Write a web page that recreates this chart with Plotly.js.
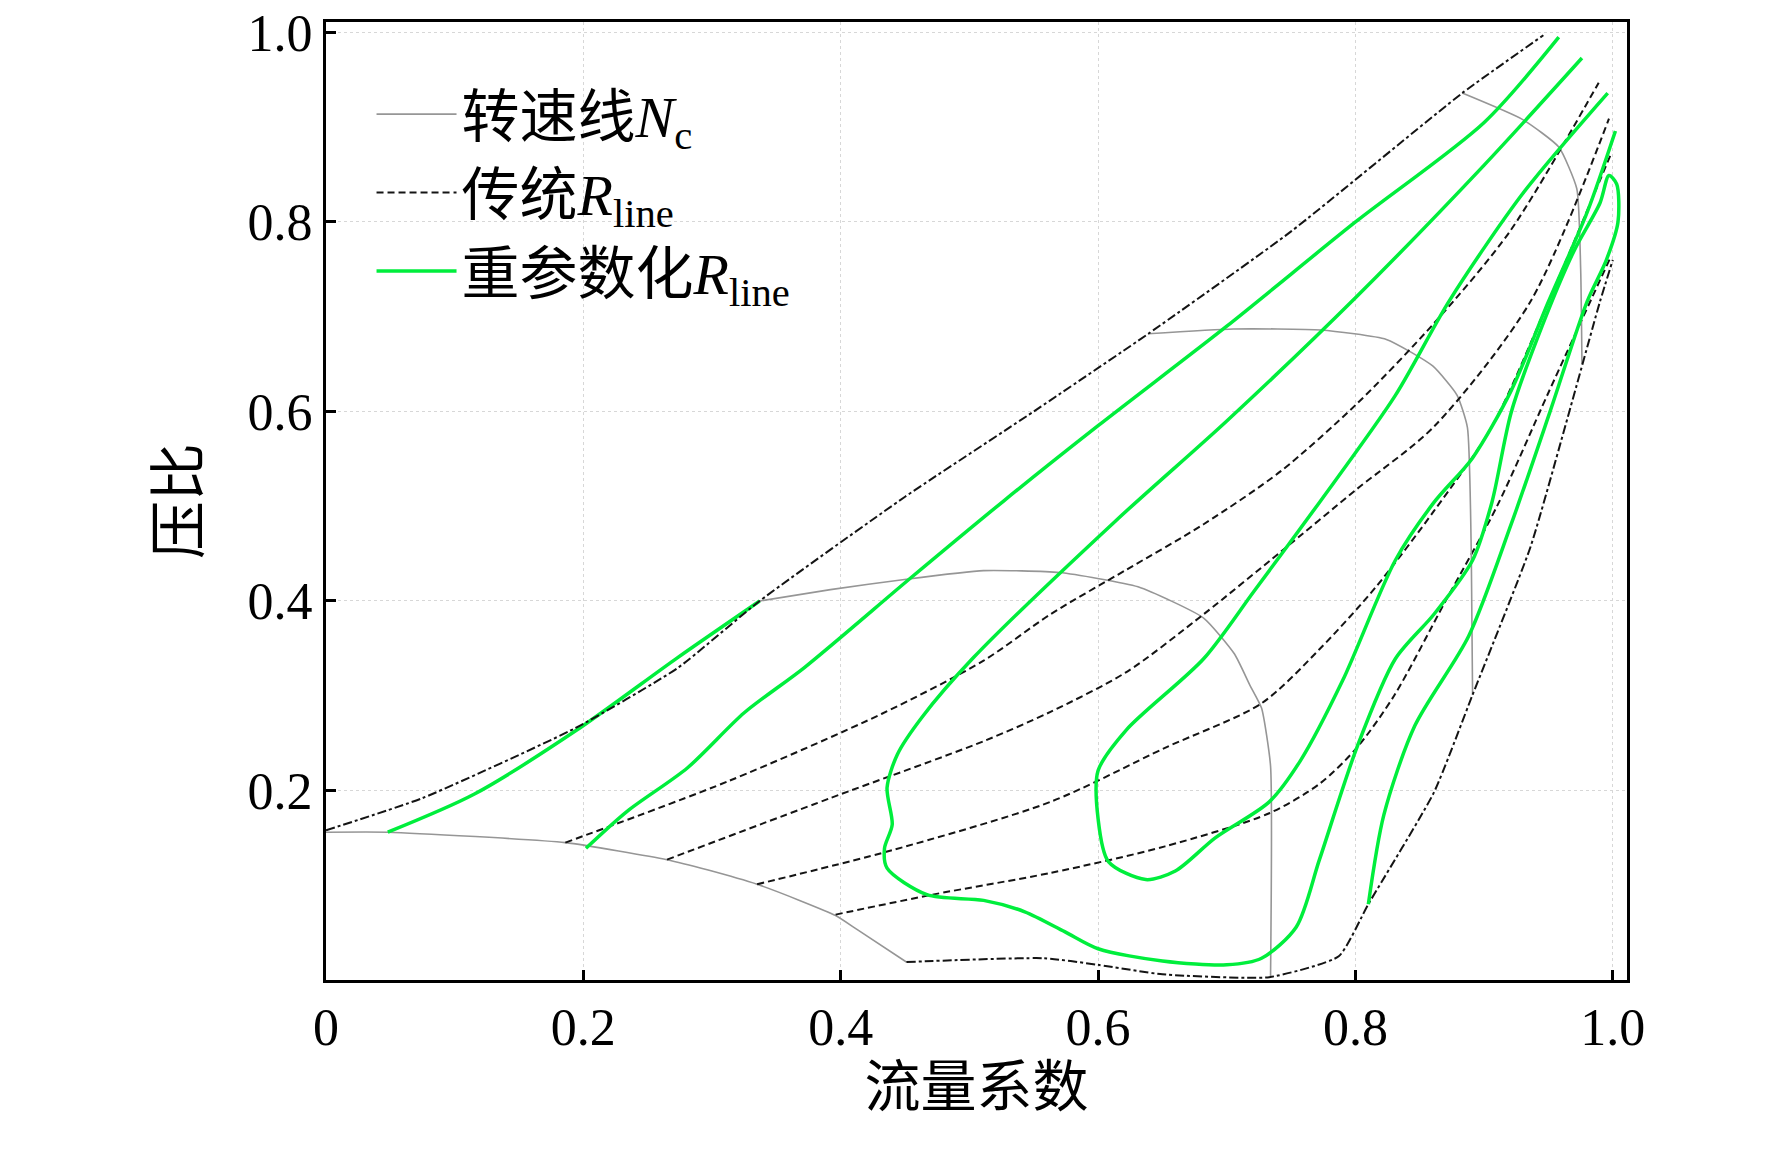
<!DOCTYPE html>
<html>
<head>
<meta charset="utf-8">
<script src="https://cdn.plot.ly/plotly-3.0.1.min.js"></script>
<style>body{margin:0;background:#fff}#graph{width:1772px;height:1156px}</style>
</head>
<body>
<div id="graph"></div>
<script>
// speed lines (gray)
var n1x = [0, 0.048, 0.186, 0.265, 0.297, 0.335, 0.368, 0.396, 0.412, 0.451];
var n1y = [0.156, 0.156, 0.145, 0.127, 0.116, 0.101, 0.084, 0.068, 0.054, 0.019];
var n2x = [0.337, 0.392, 0.451, 0.511, 0.57, 0.631, 0.682, 0.706, 0.718, 0.727, 0.734, 0.734];
var n2y = [0.4, 0.412, 0.423, 0.432, 0.43, 0.415, 0.382, 0.344, 0.311, 0.287, 0.226, 0.003];
var n3x = [0.639, 0.705, 0.773, 0.824, 0.86, 0.879, 0.887, 0.89, 0.891];
var n3y = [0.682, 0.687, 0.686, 0.676, 0.648, 0.617, 0.583, 0.45, 0.301];
var n4x = [0.883, 0.93, 0.958, 0.972, 0.975, 0.976];
var n4y = [0.936, 0.908, 0.879, 0.835, 0.75, 0.65];

// boundaries (dash-dot)
var topx = [0, 0.075, 0.194, 0.273, 0.337, 0.45, 0.55, 0.639, 0.75, 0.883, 0.946];
var topy = [0.158, 0.192, 0.266, 0.329, 0.4, 0.51, 0.6, 0.682, 0.79, 0.936, 0.997];
var botx = [0.451, 0.558, 0.6, 0.65, 0.733, 0.787, 0.81, 0.861, 0.891, 0.936, 0.966, 0.99, 1.0];
var boty = [0.019, 0.023, 0.016, 0.006, 0.003, 0.025, 0.08, 0.198, 0.301, 0.457, 0.599, 0.716, 0.76];

// traditional R lines (dashed)
var dAx = [0.396, 0.471, 0.563, 0.652, 0.733, 0.772, 0.801, 0.83, 0.87, 0.91, 0.95, 0.998];
var dAy = [0.069, 0.09, 0.113, 0.141, 0.176, 0.207, 0.245, 0.3, 0.4, 0.5, 0.62, 0.762];
var dBx = [0.335, 0.44, 0.563, 0.652, 0.727, 0.772, 0.816, 0.861, 0.906, 0.95, 0.998];
var dBy = [0.101, 0.137, 0.188, 0.245, 0.292, 0.349, 0.415, 0.495, 0.584, 0.716, 0.87];
var dCx = [0.265, 0.392, 0.511, 0.563, 0.622, 0.682, 0.742, 0.801, 0.861, 0.936, 0.997];
var dCy = [0.127, 0.192, 0.252, 0.283, 0.325, 0.386, 0.452, 0.518, 0.584, 0.716, 0.909];
var dDx = [0.186, 0.313, 0.432, 0.511, 0.563, 0.622, 0.682, 0.742, 0.801, 0.861, 0.92, 0.989];
var dDy = [0.145, 0.21, 0.281, 0.337, 0.386, 0.433, 0.481, 0.537, 0.608, 0.693, 0.79, 0.947];

// reparameterised R lines (green)
var g1x = [0.048, 0.115, 0.194, 0.273, 0.337];
var g1y = [0.156, 0.196, 0.263, 0.34, 0.4];
var g2x = [0.202, 0.234, 0.281, 0.325, 0.372, 0.455, 0.527, 0.6, 0.7, 0.8, 0.9, 0.958];
var g2y = [0.139, 0.178, 0.224, 0.282, 0.33, 0.425, 0.506, 0.585, 0.69, 0.8, 0.905, 0.995];
var g3x = [0.976, 0.9, 0.8, 0.7, 0.614, 0.503, 0.463, 0.444, 0.436, 0.44, 0.434, 0.436, 0.467, 0.511, 0.543, 0.574, 0.6, 0.65, 0.7, 0.727, 0.754, 0.772, 0.801, 0.831, 0.861, 0.891, 0.906, 0.921, 0.945, 0.97, 0.99, 0.997, 1.003, 1.004, 0.995, 0.98, 0.951, 0.921, 0.888, 0.846, 0.822, 0.81];
var g3y = [0.973, 0.86, 0.72, 0.59, 0.485, 0.34, 0.277, 0.238, 0.203, 0.164, 0.139, 0.118, 0.09, 0.084, 0.072, 0.051, 0.033, 0.02, 0.016, 0.023, 0.056, 0.127, 0.245, 0.339, 0.386, 0.443, 0.504, 0.599, 0.69, 0.77, 0.82, 0.849, 0.84, 0.8, 0.76, 0.716, 0.599, 0.481, 0.363, 0.268, 0.174, 0.08];
var g4x = [0.996, 0.93, 0.873, 0.831, 0.772, 0.721, 0.682, 0.622, 0.6, 0.6, 0.608, 0.637, 0.66, 0.691, 0.733, 0.757, 0.79, 0.831, 0.861, 0.891, 0.921, 0.95, 0.98, 1.002];
var g4y = [0.936, 0.83, 0.717, 0.617, 0.504, 0.41, 0.339, 0.264, 0.221, 0.17, 0.125, 0.106, 0.115, 0.15, 0.188, 0.231, 0.316, 0.443, 0.504, 0.551, 0.622, 0.716, 0.81, 0.896];

var serif = 'Liberation Serif, Times New Roman, Noto Sans CJK SC, serif';
var grayL = {color: 'rgb(150,150,150)', width: 1.6, shape: 'spline', smoothing: 0.5};
var dashL = {color: 'rgb(20,20,20)', width: 2, dash: '7px,4px', shape: 'spline', smoothing: 0.8};
var ddL = {color: 'rgb(20,20,20)', width: 2, dash: 'dashdot', shape: 'spline', smoothing: 0.5};
var greenL = {color: 'rgb(0,238,60)', width: 3.5, shape: 'spline', smoothing: 0.8};

function tr(x, y, line, name, show){
    return {x: x, y: y, mode: 'lines', line: line, name: name || '', showlegend: !!show, hoverinfo: 'none'};
}

var data = [
    tr(n1x, n1y, grayL, '转速线<i>N</i><sub>c</sub>', true),
    tr(dAx, dAy, dashL, '传统<i>R</i><sub>line</sub>', true),
    tr(g1x, g1y, greenL, '重参数化<i>R</i><sub>line</sub>', true),
    tr(n2x, n2y, grayL), tr(n3x, n3y, grayL), tr(n4x, n4y, grayL),
    tr(topx, topy, ddL), tr(botx, boty, ddL),
    tr(dBx, dBy, dashL), tr(dCx, dCy, dashL), tr(dDx, dDy, dashL),
    tr(g2x, g2y, greenL), tr(g3x, g3y, greenL), tr(g4x, g4y, greenL)
];

var xticks = [0, 0.2, 0.4, 0.6, 0.8, 1.0];
var xlabels = ['0', '0.2', '0.4', '0.6', '0.8', '1.0'];
var yticks = [0.2, 0.4, 0.6, 0.8, 1.0];
var ylabels = ['0.2', '0.4', '0.6', '0.8', '1.0'];

var layout = {
    width: 1772, height: 1156,
    margin: {l: 326, r: 145, t: 22, b: 176},
    paper_bgcolor: 'white', plot_bgcolor: 'white',
    font: {family: serif, color: 'black'},
    xaxis: {
        range: [0, 1.011], tickvals: xticks, ticktext: xlabels,
        ticks: 'inside', ticklen: 10, tickwidth: 3, tickcolor: 'black',
        showline: true, linewidth: 3, linecolor: 'black', mirror: true,
        showgrid: true, gridcolor: 'rgb(215,215,215)', griddash: 'dot', gridwidth: 1,
        zeroline: false, tickfont: {size: 52, family: serif},
        title: {text: '流量系数', font: {size: 56, family: serif}, standoff: 10}
    },
    yaxis: {
        range: [0, 1.011], tickvals: yticks, ticktext: ylabels,
        ticks: 'inside', ticklen: 10, tickwidth: 3, tickcolor: 'black',
        showline: true, linewidth: 3, linecolor: 'black', mirror: true,
        showgrid: true, gridcolor: 'rgb(215,215,215)', griddash: 'dot', gridwidth: 1,
        zeroline: false, tickfont: {size: 52, family: serif},
        title: {text: '压比', font: {size: 58, family: serif}, standoff: 30}
    },
    legend: {
        x: 0.035, y: 0.95, xanchor: 'left', yanchor: 'top',
        bgcolor: 'rgba(255,255,255,0)', font: {size: 58, family: serif},
        itemwidth: 80, tracegroupgap: 0
    }
};

Plotly.newPlot('graph', data, layout, {displayModeBar: false});
</script>
</body>
</html>
